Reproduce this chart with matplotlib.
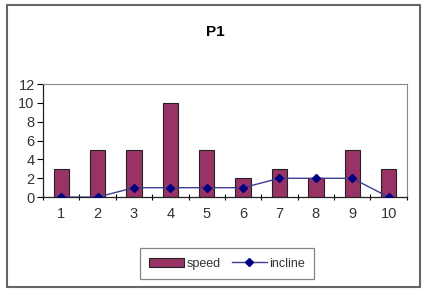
import matplotlib
matplotlib.use("Agg")
import matplotlib.pyplot as plt
from matplotlib.patches import Rectangle
import numpy as np

categories = ["1", "2", "3", "4", "5", "6", "7", "8", "9", "10"]
speed = [3, 5, 5, 10, 5, 2, 3, 2, 5, 3]
incline = [0, 0, 1, 1, 1, 1, 2, 2, 2, 0]
yticks = [0, 2, 4, 6, 8, 10, 12]

plt.rcParams["font.family"] = ["Liberation Sans", "DejaVu Sans"]

fig = plt.figure(figsize=(4.22, 2.89), dpi=100)
ax = fig.add_axes([0.102, 0.318, 0.862, 0.391])

x = np.arange(len(categories))
bars = ax.bar(x, speed, width=0.42, color="#993366", edgecolor="#222222",
              linewidth=0.8, label="speed", zorder=2)
line, = ax.plot(x, incline, color="#3d3d8f", linewidth=1.0, marker="D",
                markersize=3.6, markerfacecolor="#000080",
                markeredgecolor="#000080", label="incline", zorder=3)

ax.set_xlim(-0.5, len(categories) - 0.5)
ax.set_ylim(0, 12)
ax.set_yticks(yticks)
ax.set_xticks(x)
ax.set_xticklabels(categories)
ax.set_xticks(np.arange(-0.5, len(categories)), minor=True)
ax.tick_params(axis="x", which="major", length=0, labelsize=10.5, pad=7,
               labelcolor="#333333")
ax.tick_params(axis="x", which="minor", length=5, direction="inout", width=0.8)
ax.tick_params(axis="y", length=4, direction="out", labelsize=10.5, pad=2,
               labelcolor="#333333")

for side in ("top", "right"):
    ax.spines[side].set_color("#888888")
    ax.spines[side].set_linewidth(0.8)
for side in ("left", "bottom"):
    ax.spines[side].set_color("#222222")
    ax.spines[side].set_linewidth(0.9)

fig.text(0.51, 0.889, "P1", ha="center", va="center", fontsize=11,
         fontweight="bold")

leg = fig.legend([bars, line], ["speed", "incline"], loc="center",
                 bbox_to_anchor=(0.538, 0.087), ncol=2,
                 fontsize=9, frameon=True, fancybox=False,
                 handlelength=2.8, handletextpad=0.2, columnspacing=0.9,
                 borderpad=0.75)
leg.get_frame().set_edgecolor("#666666")
leg.get_frame().set_linewidth(0.9)
for t in leg.get_texts():
    t.set_color("#333333")

fig.patches.append(Rectangle((0.017, 0.007), 0.978, 0.976,
                             transform=fig.transFigure, fill=False,
                             edgecolor="#666666", linewidth=1.5))

fig.savefig("out.png", dpi=100)
